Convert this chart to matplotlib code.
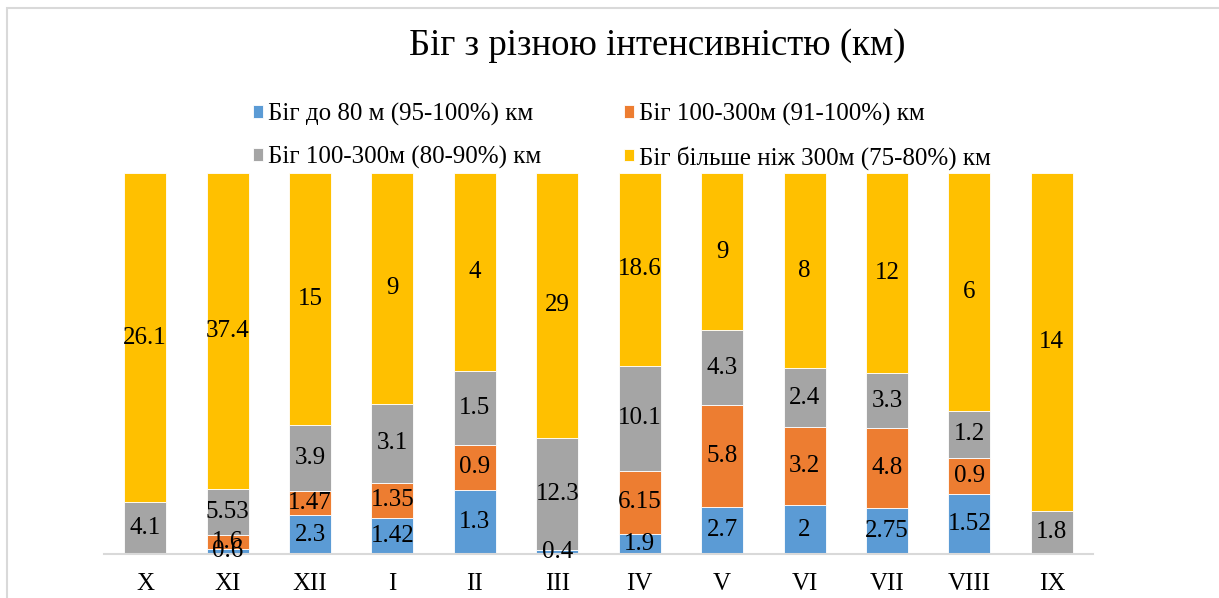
import numpy as np
import matplotlib.pyplot as plt
from matplotlib.patches import Rectangle

months = ["X", "XI", "XII", "I", "II", "III", "IV", "V", "VI", "VII", "VIII", "IX"]
sprint80 = [0, 0.6, 2.3, 1.42, 1.3, 0.4, 1.9, 2.7, 2, 2.75, 1.52, 0]
run_91_100 = [0, 1.6, 1.47, 1.35, 0.9, 0, 6.15, 5.8, 3.2, 4.8, 0.9, 0]
run_80_90 = [4.1, 5.53, 3.9, 3.1, 1.5, 12.3, 10.1, 4.3, 2.4, 3.3, 1.2, 1.8]
run_300 = [26.1, 37.4, 15, 9, 4, 29, 18.6, 9, 8, 12, 6, 14]

names = ["Біг до 80 м (95-100%) км", "Біг 100-300м (91-100%) км",
         "Біг 100-300м (80-90%) км", "Біг більше ніж 300м (75-80%) км"]
colors = ["#5B9BD5", "#ED7D31", "#A5A5A5", "#FFC000"]

plt.rcParams['font.family'] = ['Liberation Serif', 'DejaVu Serif']

W, H = 1219, 598
fig = plt.figure(figsize=(W/100, H/100), dpi=100)
fig.patches.append(Rectangle((7/W, -0.1), 1.2, 1 - 8/H + 0.1, transform=fig.transFigure,
                             fill=False, edgecolor="#D9D9D9", linewidth=1.5))

ax = fig.add_axes([104/W, 1 - 554/H, (1093-104)/W, (554-173)/H])

series = [np.array(s, dtype=float) for s in [sprint80, run_91_100, run_80_90, run_300]]
total = sum(series)
x = np.arange(len(months))
bottom = np.zeros(len(months))
handles = []
for vals, name, c in zip(series, names, colors):
    frac = vals / total
    b = ax.bar(x, frac, 0.51, bottom=bottom, color=c, edgecolor="white", linewidth=0.6, label=name)
    handles.append(b)
    for xi, v, f, bt in zip(x, vals, frac, bottom):
        if v > 0:
            ax.text(xi, bt + f/2, f"{v:g}", ha="center", va="center", fontsize=18, color="black")
    bottom += frac

ax.set_xlim(-0.5, len(months) - 0.5)
ax.set_ylim(0, 1)
ax.set_xticks(x)
ax.set_xticklabels(months, fontsize=18)
ax.tick_params(axis="x", length=0, pad=14)
ax.set_yticks([])
for s in ["top", "right", "left"]:
    ax.spines[s].set_visible(False)
ax.spines["bottom"].set_color("#D9D9D9")
ax.spines["bottom"].set_linewidth(1.5)

fig.text(657/W, 1 - 46/H, "Біг з різною інтенсивністю (км)", ha="center", va="center", fontsize=26.5)

# legend is filled column by column, so reorder to get the row-wise layout
order = [0, 2, 1, 3]
fig.legend(handles=[handles[i] for i in order], labels=[names[i] for i in order], ncol=2,
           loc="center", bbox_to_anchor=(622/W, 1 - 136/H),
           frameon=False, fontsize=18, handlelength=0.4, handleheight=0.4, handletextpad=0.2,
           columnspacing=3.3, labelspacing=0.8)

fig.savefig("out.png", dpi=100)
